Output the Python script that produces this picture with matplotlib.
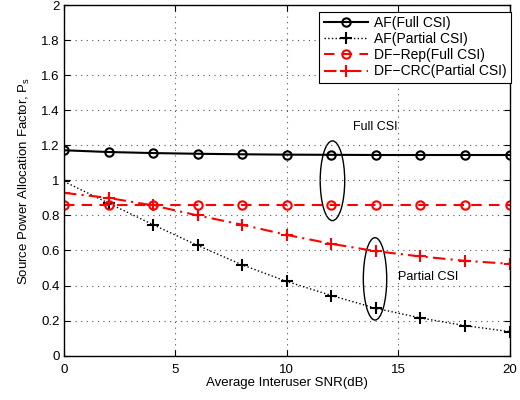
import matplotlib
matplotlib.use("Agg")
import matplotlib.pyplot as plt
from matplotlib.patches import Ellipse

snr = [0, 2, 4, 6, 8, 10, 12, 14, 16, 18, 20]
af_full = [1.172, 1.162, 1.156, 1.152, 1.149, 1.147, 1.146, 1.145, 1.145, 1.145, 1.145]
af_partial = [0.994, 0.87, 0.747, 0.629, 0.518, 0.423, 0.343, 0.27, 0.215, 0.171, 0.137]
df_rep = [0.86] * 11
df_crc = [0.929, 0.90, 0.857, 0.80, 0.747, 0.689, 0.638, 0.596, 0.566, 0.541, 0.524]

labels = ["AF(Full CSI)", "AF(Partial CSI)", "DF\u2212Rep(Full CSI)", "DF\u2212CRC(Partial CSI)"]
xticks = [0, 5, 10, 15, 20]
yticks = [0, 0.2, 0.4, 0.6, 0.8, 1, 1.2, 1.4, 1.6, 1.8, 2]
yticklabels = ["0", "0.2", "0.4", "0.6", "0.8", "1", "1.2", "1.4", "1.6", "1.8", "2"]

plt.rcParams['font.family'] = ['Liberation Sans', 'DejaVu Sans']
plt.rcParams['mathtext.fontset'] = 'custom'
plt.rcParams['mathtext.rm'] = 'Liberation Sans'
plt.rcParams['mathtext.it'] = 'Liberation Sans'

fig = plt.figure(figsize=(5.2, 4.0), dpi=100)
ax = fig.add_axes([0.123, 0.111, 0.857, 0.876])

ax.plot(snr, af_full, color='black', linestyle='-', linewidth=1.5, marker='o',
        markersize=6, markerfacecolor='none', markeredgewidth=1.5, label=labels[0])
ax.plot(snr, af_partial, color='black', linestyle=':', linewidth=1.0, marker='+',
        markersize=8, markeredgewidth=1.5, label=labels[1])
ax.plot(snr, df_rep, color='red', linestyle=(0, (5, 3.5)), linewidth=1.5, marker='o',
        markersize=6, markerfacecolor='none', markeredgewidth=1.5, label=labels[2])
ax.plot(snr, df_crc, color='red', linestyle=(0, (6, 2.5, 1, 2.5)), linewidth=1.5, marker='+',
        markersize=9, markeredgewidth=1.5, label=labels[3])

ax.add_patch(Ellipse((12.05, 0.998), 1.1, 0.455, fill=False, edgecolor='black', linewidth=1.0))
ax.add_patch(Ellipse((13.96, 0.438), 1.05, 0.47, fill=False, edgecolor='black', linewidth=1.0))
ax.text(12.97, 1.307, "Full CSI", fontsize=9, va='center', ha='left')
ax.text(15.0, 0.447, "Partial CSI", fontsize=9, va='center', ha='left')

ax.set_xlim(0, 20)
ax.set_ylim(0, 2)
ax.set_xticks(xticks)
ax.set_yticks(yticks)
ax.set_yticklabels(yticklabels)
ax.tick_params(direction='in', top=True, right=True, labelsize=9.5, length=4)
ax.tick_params(axis='x', pad=6)
ax.tick_params(axis='y', pad=3)
ax.grid(True, linestyle=(0, (1, 4)), color='#555555', linewidth=0.8)
for s in ax.spines.values():
    s.set_linewidth(1.0)

ax.set_xlabel("Average Interuser SNR(dB)", fontsize=9.5, labelpad=1)
ax.set_ylabel("Source Power Allocation Factor, P$_{\\mathrm{s}}$", fontsize=9.5, labelpad=7)

leg = ax.legend(loc='upper right', bbox_to_anchor=(511 / 520, (400 - 12) / 400),
                bbox_transform=fig.transFigure, fontsize=10, fancybox=False, framealpha=1,
                edgecolor='black', borderaxespad=0, handlelength=3.2,
                borderpad=0.3, labelspacing=0.15, handletextpad=0.45)
leg.get_frame().set_linewidth(0.8)

fig.savefig("out.png", dpi=100)
